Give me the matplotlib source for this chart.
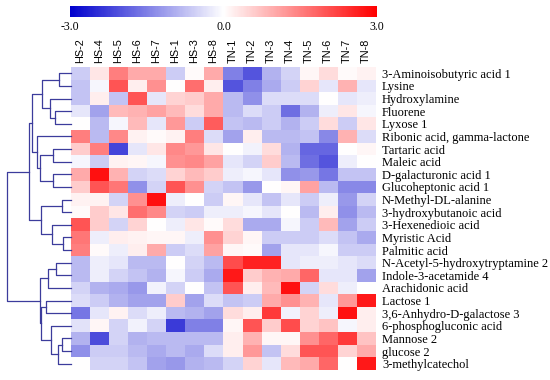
import numpy as np
import matplotlib
matplotlib.use('Agg')
import matplotlib.pyplot as plt
from matplotlib.colors import LinearSegmentedColormap

# 样本（列）
samples = ['HS-2', 'HS-4', 'HS-5', 'HS-6', 'HS-7', 'HS-1', 'HS-3', 'HS-8',
           'TN-1', 'TN-2', 'TN-3', 'TN-4', 'TN-5', 'TN-6', 'TN-7', 'TN-8']

# 代谢物（行）
metabolites = ['3-Aminoisobutyric acid 1', 'Lysine', 'Hydroxylamine', 'Fluorene',
               'Lyxose 1', 'Ribonic acid, gamma-lactone', 'Tartaric acid', 'Maleic acid',
               'D-galacturonic acid 1', 'Glucoheptonic acid 1', 'N-Methyl-DL-alanine',
               '3-hydroxybutanoic acid', '3-Hexenedioic acid', 'Myristic Acid',
               'Palmitic acid', 'N-Acetyl-5-hydroxytryptamine 2', 'Indole-3-acetamide 4',
               'Arachidonic acid', 'Lactose 1', '3,6-Anhydro-D-galactose 3',
               '6-phosphogluconic acid', 'Mannose 2', 'glucose 2', '3-methylcatechol']

# 标准化后的值 (z-score)
values = np.array([
    [-0.6, 0.3, 1.5, 1.0, 1.0, -0.6, 0.05, 1.0, -1.5, -2.0, -0.9, -0.5, 0.1, 0.4, 0.05, 0.15],
    [-0.7, -0.1, 2.0, 0.2, 1.3, 0.0, 1.7, 0.2, -2.0, -1.5, -1.0, -0.6, 0.5, -0.3, 0.9, -0.3],
    [-0.7, 0.2, -0.7, 2.0, -0.3, 0.5, 0.6, 1.0, -0.8, -1.3, -0.4, -0.4, -0.4, 0.0, -0.3, -0.2],
    [-0.3, -1.1, 0.8, 0.9, 1.1, 0.8, 0.4, 1.0, -0.8, -0.4, -0.6, -1.7, -0.9, -0.2, 0.3, -0.1],
    [0.0, -0.8, -0.1, 0.8, -0.3, 1.2, -0.6, 1.9, -0.7, -0.8, -0.6, -0.9, -0.6, 0.4, -0.6, 0.3],
    [1.5, -0.8, 1.4, 0.15, 0.05, 0.15, 1.5, -0.4, -1.1, 0.2, -0.8, -0.8, -0.7, -1.4, 0.9, -0.4],
    [0.6, 1.5, -2.2, -0.3, 0.3, 1.4, 1.2, 0.3, 0.0, -0.15, 0.4, -0.9, -1.8, -1.8, 0.0, 0.1],
    [-0.1, -0.6, 0.15, 0.1, -0.1, 1.3, 1.4, 1.1, -0.3, -0.5, 0.6, -0.8, -1.7, -2.0, -0.2, 0.0],
    [1.0, 2.8, 0.9, -0.5, -0.4, 0.5, 0.8, 0.6, -0.2, -0.1, -0.3, -1.3, -1.2, -1.6, -0.7, -0.7],
    [0.6, 2.0, 1.6, -1.3, -0.5, 2.0, 1.3, -0.5, -0.7, -1.2, 0.0, 0.1, 1.1, -0.8, -1.4, -1.4],
    [0.15, 0.15, -0.5, 1.3, 2.8, -0.2, 0.0, -0.6, 0.1, -0.3, -0.7, -0.3, -0.6, -0.2, -1.2, -0.5],
    [0.05, 0.6, 0.3, 1.7, 1.4, -0.5, -0.6, -0.2, -0.2, -0.1, -0.3, 0.0, -0.8, 0.2, -1.3, -0.8],
    [2.0, 0.6, -0.5, 0.5, 0.0, -0.2, 0.3, 0.05, 0.4, -1.0, -1.0, -0.1, -0.6, 0.8, -1.1, -0.6],
    [1.6, -0.2, 0.2, 0.15, 0.1, 0.1, -0.2, 1.3, 0.5, 0.1, -0.6, -0.6, -0.6, -0.4, -0.7, -1.0],
    [1.5, 0.05, -0.2, 0.2, 1.0, -0.6, -0.4, 1.1, 0.1, 0.05, -1.1, -0.3, -0.3, -0.1, -0.6, -0.6],
    [-0.8, -0.2, -0.3, -0.8, -0.8, 0.0, -0.5, -0.8, 2.1, 2.6, 2.6, -0.3, -0.2, -0.2, -0.3, -0.4],
    [-0.8, -0.2, -0.5, -0.7, -0.9, -0.1, -0.6, -1.0, 2.7, 0.6, 0.9, 1.0, 1.8, -0.3, -0.3, -1.1],
    [-0.5, -0.9, -1.0, -1.2, -0.15, -0.5, 0.0, -0.7, 2.0, 0.2, 0.8, 2.8, -0.5, 0.4, -0.2, 0.0],
    [-0.4, -0.6, -0.9, -1.1, -1.1, 0.6, -1.1, -0.4, -0.7, -0.6, 1.0, 1.3, 0.9, -0.3, 1.2, 2.7],
    [-1.6, -0.3, 0.15, -0.4, -0.2, -0.8, -0.9, -1.1, 0.4, 0.2, 2.3, -0.15, 0.5, -0.2, 2.8, 0.2],
    [-0.35, 0.1, -0.5, -0.15, -0.5, -2.3, -1.5, -1.5, 0.1, 2.0, 0.6, 2.1, 0.5, 0.7, -0.1, 0.2],
    [-0.9, -2.1, -0.5, -0.9, -0.8, -0.8, -0.8, -0.8, 0.2, 0.9, 0.1, 0.1, 1.3, 1.8, 2.3, 0.7],
    [-1.3, -0.6, -0.6, -0.8, -1.0, -0.8, -1.0, -0.4, 0.2, 1.2, -0.7, 0.4, 2.0, 2.0, 0.5, 1.0],
    [0.0, -0.5, -0.5, -0.7, -1.1, -1.2, -0.9, -0.8, -0.5, 0.5, -0.3, 0.8, 1.0, 1.8, 0.0, 2.7],
])

# 行聚类 (a, b, 高度)，新节点编号从 24 开始
links = [
    (0, 1, 11.7), (3, 4, 16.0), (2, 25, 21.0), (24, 26, 29.3),
    (6, 7, 17.7), (8, 9, 17.7), (28, 29, 31.0), (5, 30, 34.3),
    (27, 31, 38.7), (10, 11, 9.3), (13, 14, 8.3), (12, 34, 19.3),
    (33, 35, 30.3), (32, 36, 41.7), (15, 16, 15.3), (38, 17, 22.7),
    (18, 19, 25.3), (21, 22, 9.3), (41, 23, 12.7), (20, 42, 20.0),
    (40, 43, 30.0), (39, 44, 31.0), (37, 45, 64.0),
]

W, H = 550, 380
cmap = LinearSegmentedColormap.from_list('bwr2', ['#0000cd', '#ffffff', '#ff0000'])

fig = plt.figure(figsize=(W / 100, H / 100), dpi=100)

# 热图
ax = fig.add_axes([71 / W, 10 / H, 304 / W, 303 / H])
im = ax.imshow(values, cmap=cmap, vmin=-3, vmax=3, aspect='auto', interpolation='nearest')
ax.set_xticks(range(len(samples)))
ax.set_xticklabels(samples, rotation=90, family='Liberation Sans', fontsize=7.8)
ax.xaxis.tick_top()
ax.set_yticks(range(len(metabolites)))
ax.set_yticklabels(metabolites, family='Liberation Serif', fontsize=9)
ax.yaxis.tick_right()
ax.tick_params(length=0)
ax.tick_params(axis='x', pad=3)
ax.tick_params(axis='y', pad=5)
for s in ax.spines.values():
    s.set_visible(False)

# 树状图
dax = fig.add_axes([7 / W, 10 / H, 64 / W, 303 / H])
pos = {i: float(i) for i in range(len(metabolites))}
ht = {i: 0.0 for i in range(len(metabolites))}
for k, (a, b, h) in enumerate(links):
    dax.plot([ht[a], h, h, ht[b]], [pos[a], pos[a], pos[b], pos[b]],
             color='#3c3c9c', lw=0.9, clip_on=False)
    nid = len(metabolites) + k
    pos[nid] = (pos[a] + pos[b]) / 2
    ht[nid] = h
dax.set_xlim(64, 0)
dax.set_ylim(len(metabolites) - 0.5, -0.5)
dax.axis('off')

# 颜色条
cax = fig.add_axes([70 / W, (H - 16.5) / H, 307 / W, 11 / H])
cb = fig.colorbar(im, cax=cax, orientation='horizontal', ticks=[-3, 0, 3])
cb.outline.set_visible(False)
cax.set_xticklabels(['-3.0', '0.0', '3.0'], family='Liberation Serif', fontsize=8.5)
cax.tick_params(length=0, pad=3)

plt.savefig('out.png', dpi=100)
